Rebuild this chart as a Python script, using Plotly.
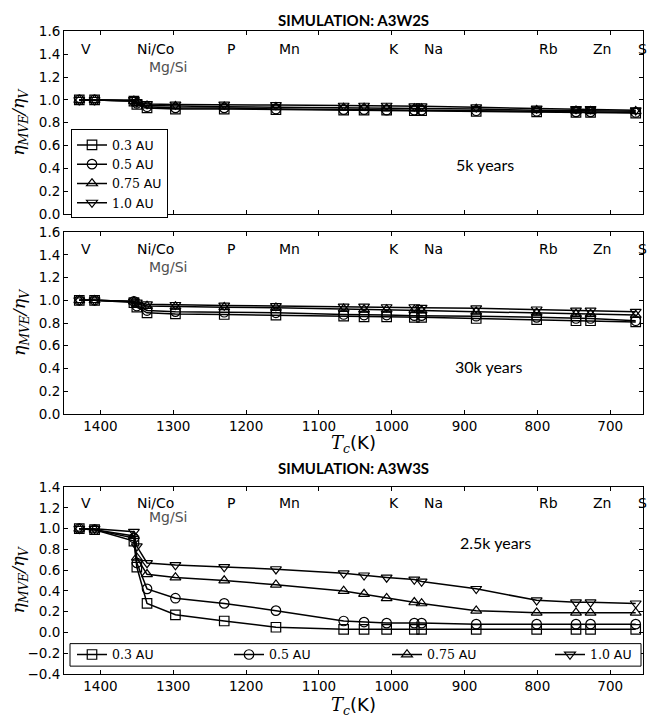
import plotly.graph_objects as go

# Condensation temperatures (K)
tc = [1429, 1408, 1354, 1350, 1336, 1297, 1230, 1159, 1066, 1038, 1007, 969, 959, 884, 801, 747, 727, 665]

series_names = ["0.3", "0.5", "0.75", "1.0"]
symbols = ["square-open", "circle-open", "triangle-up-open", "triangle-down-open"]

# A3W2S, 5k years
top_03 = [1.0, 1.0, 0.99, 0.96, 0.93, 0.92, 0.92, 0.915, 0.91, 0.91, 0.91, 0.905, 0.905, 0.90, 0.895, 0.89, 0.89, 0.885]
top_05 = [1.0, 1.0, 0.99, 0.97, 0.94, 0.93, 0.93, 0.92, 0.915, 0.915, 0.91, 0.91, 0.91, 0.905, 0.90, 0.895, 0.895, 0.89]
top_075 = [1.0, 1.0, 0.99, 0.97, 0.95, 0.945, 0.94, 0.935, 0.93, 0.93, 0.925, 0.925, 0.925, 0.92, 0.91, 0.905, 0.90, 0.90]
top_10 = [1.0, 1.0, 1.0, 0.98, 0.965, 0.96, 0.96, 0.955, 0.95, 0.95, 0.95, 0.945, 0.945, 0.935, 0.925, 0.92, 0.92, 0.91]

# A3W2S, 30k years
mid_03 = [1.0, 1.0, 0.98, 0.94, 0.89, 0.88, 0.875, 0.87, 0.86, 0.855, 0.855, 0.85, 0.85, 0.84, 0.83, 0.82, 0.82, 0.81]
mid_05 = [1.0, 1.0, 0.99, 0.95, 0.91, 0.90, 0.895, 0.89, 0.875, 0.87, 0.87, 0.865, 0.865, 0.86, 0.85, 0.84, 0.84, 0.82]
mid_075 = [1.0, 1.0, 0.99, 0.97, 0.95, 0.945, 0.94, 0.935, 0.925, 0.92, 0.92, 0.915, 0.91, 0.90, 0.89, 0.88, 0.88, 0.87]
mid_10 = [1.0, 1.0, 0.99, 0.98, 0.965, 0.96, 0.955, 0.95, 0.945, 0.945, 0.94, 0.94, 0.935, 0.93, 0.92, 0.91, 0.91, 0.90]

# A3W3S, 2.5k years
bot_03 = [1.0, 0.99, 0.88, 0.63, 0.28, 0.17, 0.11, 0.05, 0.03, 0.03, 0.03, 0.03, 0.03, 0.03, 0.03, 0.03, 0.03, 0.03]
bot_05 = [1.0, 0.99, 0.91, 0.67, 0.42, 0.33, 0.28, 0.21, 0.11, 0.10, 0.09, 0.09, 0.09, 0.08, 0.08, 0.08, 0.08, 0.08]
bot_075 = [1.0, 0.99, 0.93, 0.72, 0.56, 0.53, 0.50, 0.46, 0.40, 0.37, 0.33, 0.29, 0.28, 0.21, 0.19, 0.19, 0.19, 0.19]
bot_10 = [1.0, 1.0, 0.97, 0.83, 0.67, 0.65, 0.63, 0.61, 0.57, 0.55, 0.53, 0.51, 0.49, 0.42, 0.31, 0.29, 0.29, 0.28]

elements = ["V", "Ni/Co", "P", "Mn", "K", "Na", "Rb", "Zn", "S"]
element_tc = [1429, 1353, 1229, 1158, 1006, 958, 800, 726, 664]
sub_label = "Mg/Si"
sub_label_tc = 1336

x_ticks = [1400, 1300, 1200, 1100, 1000, 900, 800, 700]
x_range = [1450, 655]

W, H = 647, 724

# bottom legend: one legend per entry, spread across the frame
bottom_legend_x = [72, 229, 387, 550]

panels = [
    dict(data=[top_03, top_05, top_075, top_10], note="5k years", note_x=872, note_y=0.43,
         yr=[0, 1.6], ytv=[0, 0.2, 0.4, 0.6, 0.8, 1.0, 1.2, 1.4, 1.6], lab_y=1.45, sub_y=1.29,
         legends=["legend"] * 4, showlegend=True, dom=[0.7090, 0.9669], xlabels=False),
    dict(data=[mid_03, mid_05, mid_075, mid_10], note="30k years", note_x=866, note_y=0.42,
         yr=[0, 1.6], ytv=[0, 0.2, 0.4, 0.6, 0.8, 1.0, 1.2, 1.4, 1.6], lab_y=1.45, sub_y=1.29,
         legends=None, showlegend=False, dom=[0.4268, 0.6833], xlabels=True),
    dict(data=[bot_03, bot_05, bot_075, bot_10], note="2.5k years", note_x=858, note_y=0.87,
         yr=[-0.4, 1.4], ytv=[-0.4, -0.2, 0, 0.2, 0.4, 0.6, 0.8, 1.0, 1.2, 1.4], lab_y=1.25, sub_y=1.115,
         legends=["legend2", "legend3", "legend4", "legend5"], showlegend=True,
         dom=[0.0594, 0.3232], xlabels=True),
]

fig = go.Figure()
xdom = [64 / W, 643 / W]
tickfont = dict(family="DejaVu Sans", size=13.5, color="black")
legfont = dict(family="DejaVu Sans", size=12.5, color="black")
annotations = []

for i, p in enumerate(panels):
    n = i + 1
    xa = "x" if n == 1 else f"x{n}"
    ya = "y" if n == 1 else f"y{n}"
    for k, (name, sym, ys) in enumerate(zip(series_names, symbols, p["data"])):
        kw = {}
        if p["legends"]:
            kw["legend"] = p["legends"][k]
        fig.add_trace(go.Scatter(
            x=tc, y=ys, xaxis=xa, yaxis=ya, mode="lines+markers",
            line=dict(color="black", width=1.5),
            marker=dict(symbol=sym, size=9.5, color="black", line=dict(width=1.2, color="black")),
            name=f'<span style="font-family:DejaVu Serif">{name}</span> AU',
            showlegend=p["showlegend"], **kw))
    axkey = "xaxis" if n == 1 else f"xaxis{n}"
    aykey = "yaxis" if n == 1 else f"yaxis{n}"
    fig.update_layout(**{
        axkey: dict(domain=xdom, range=x_range, anchor=ya, tickvals=x_ticks,
                    showticklabels=p["xlabels"], ticks="inside", ticklen=4, tickcolor="black",
                    showline=True, linecolor="black", linewidth=1, mirror="ticks",
                    showgrid=False, zeroline=False, tickfont=tickfont),
        aykey: dict(domain=p["dom"], range=p["yr"], anchor=xa, tickvals=p["ytv"], tickformat=".1f",
                    ticks="inside", ticklen=4, tickcolor="black",
                    showline=True, linecolor="black", linewidth=1, mirror="ticks",
                    showgrid=False, zeroline=False, tickfont=tickfont),
    })
    for el, t in zip(elements, element_tc):
        annotations.append(dict(x=t, y=p["lab_y"], xref=xa, yref=ya, text=el, showarrow=False,
                                xanchor="left", yanchor="middle",
                                font=dict(family="DejaVu Sans", size=14, color="black")))
    annotations.append(dict(x=sub_label_tc, y=p["sub_y"], xref=xa, yref=ya, text=sub_label,
                            showarrow=False, xanchor="left", yanchor="middle",
                            font=dict(family="DejaVu Sans", size=14, color="#505050")))
    annotations.append(dict(x=p["note_x"], y=p["note_y"], xref=xa, yref=ya, text=p["note"],
                            showarrow=False, xanchor="center", yanchor="middle",
                            font=dict(family="Lato", size=16, color="black")))
    ymid = (p["dom"][0] + p["dom"][1]) / 2
    annotations.append(dict(x=20 / W, y=ymid, xref="paper", yref="paper", textangle=-90,
                            text="<i>η</i><sub><i>MVE</i></sub><i>/η</i><sub><i>V</i></sub>",
                            showarrow=False, xanchor="center", yanchor="middle",
                            font=dict(family="DejaVu Serif", size=17.5, color="black")))

# Titles and x-axis labels
xc = (xdom[0] + xdom[1]) / 2
annotations.append(dict(x=xc, y=1 - 12 / H, xref="paper", yref="paper", text="<b>SIMULATION: A3W2S</b>",
                        showarrow=False, xanchor="center", yanchor="middle",
                        font=dict(family="Lato", size=15, color="black")))
annotations.append(dict(x=xc, y=1 - 470 / H, xref="paper", yref="paper", text="<b>SIMULATION: A3W3S</b>",
                        showarrow=False, xanchor="center", yanchor="middle",
                        font=dict(family="Lato", size=15, color="black")))
for yy in [446, 714]:
    annotations.append(dict(x=xc, y=1 - yy / H, xref="paper", yref="paper",
                            text='<span style="font-family:DejaVu Serif"><i>T</i><sub><i>c</i></sub></span>(K)',
                            showarrow=False, xanchor="center", yanchor="middle",
                            font=dict(family="DejaVu Sans", size=18, color="black")))

legends = dict(
    legend=dict(x=71 / W, y=1 - 124 / H, xanchor="left", yanchor="top",
                bgcolor="white", bordercolor="black", borderwidth=1,
                font=legfont, tracegroupgap=0, itemwidth=30),
)
for j, lx in enumerate(bottom_legend_x):
    legends[f"legend{j + 2}"] = dict(x=lx / W, y=1 - 661.5 / H, xanchor="left", yanchor="middle",
                                     bgcolor="rgba(0,0,0,0)", borderwidth=0, font=legfont,
                                     itemwidth=30, orientation="h")

fig.update_layout(
    width=W, height=H, autosize=False,
    margin=dict(l=0, r=0, t=0, b=0),
    paper_bgcolor="white", plot_bgcolor="white",
    annotations=annotations,
    shapes=[dict(type="rect", xref="paper", yref="paper", x0=70 / W, x1=641 / W,
                 y0=1 - 673 / H, y1=1 - 650 / H, line=dict(color="black", width=1),
                 fillcolor="white", layer="above")],
    **legends,
)

fig.write_html("out.html")
